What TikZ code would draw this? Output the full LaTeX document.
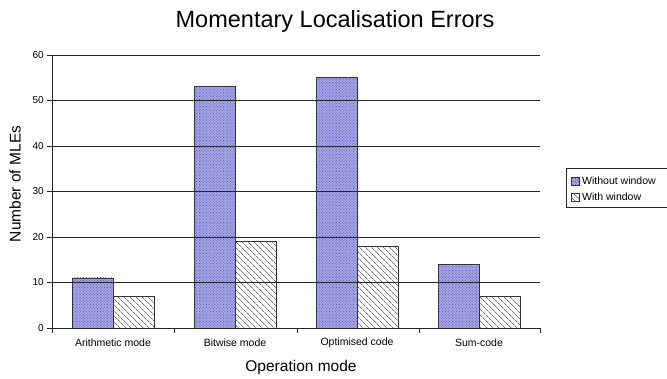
\documentclass[tikz,border=0pt]{standalone}
\usepackage{fontspec}
\setmainfont{Liberation Sans}
\usetikzlibrary{patterns,patterns.meta}
\definecolor{barblue}{RGB}{165,165,228}
\definecolor{dotblue}{RGB}{80,80,185}
\tikzset{
  px/.style={x=1pt,y=-1pt},
  bara/.style={draw=black!80,line width=0.8pt,fill=barblue,postaction={pattern={Dots[radius=0.5pt,distance=2pt,angle=45]},pattern color=dotblue}},
  barb/.style={draw=black!80,line width=0.8pt,fill=white,postaction={pattern={Lines[angle=-45,distance=4pt,line width=0.5pt]},pattern color=black!80}},
  grid line/.style={line width=0.7pt,black!85},
  ylab/.style={anchor=east,font=\fontsize{10}{11}\selectfont,inner sep=0pt},
  xlab/.style={anchor=center,font=\fontsize{10.5}{12}\selectfont,inner sep=0pt},
  leg/.style={anchor=west,font=\fontsize{10.5}{12}\selectfont,inner sep=0pt}
}
\begin{document}
\begin{tikzpicture}[px]
\useasboundingbox (0,0) rectangle (667,378);
\clip (0,0) rectangle (667,378);
\fill[white] (0,0) rectangle (667,378);
% y mapping: value v -> 328 - 4.55 v
% bars Without window
\draw[bara] (72,328) rectangle (113,{328-4.55*11});
\draw[bara] (194,328) rectangle (235,{328-4.55*53});
\draw[bara] (316,328) rectangle (357,{328-4.55*55});
\draw[bara] (438,328) rectangle (479,{328-4.55*14});
% bars With window
\draw[barb] (113,328) rectangle (154,{328-4.55*7});
\draw[barb] (235,328) rectangle (276,{328-4.55*19});
\draw[barb] (357,328) rectangle (398,{328-4.55*18});
\draw[barb] (479,328) rectangle (520,{328-4.55*7});
% grid lines and y ticks
\foreach \v in {0,10,...,60}{
  \draw[grid line] (47,{328-4.55*\v}) -- (540,{328-4.55*\v});
  \node[ylab] (y\v) at (44,{328-4.55*\v}) {\v};
}
% axes
\draw[grid line] (52,55) -- (52,333);
\foreach \xx in {174,297,419,540}{\draw[grid line] (\xx,328) -- (\xx,333);}
% category labels
\node[xlab] (c1) at (113,343) {Arithmetic mode};
\node[xlab] (c2) at (235,343) {Bitwise mode};
\node[xlab] (c3) at (357,343) {Optimised code};
\node[xlab] (c4) at (479,343) {Sum-code};
% titles
\node[font=\fontsize{23.5}{26}\selectfont] (title) at (335,21) {Momentary Localisation Errors};
\node[font=\fontsize{15.5}{18}\selectfont,rotate=90] (ytitle) at (15,184) {Number of MLEs};
\node[font=\fontsize{15.5}{18}\selectfont] (xtitle) at (301,367) {Operation mode};
% legend
\draw[line width=0.7pt,black!85] (566,168) rectangle (680,207);
\draw[bara,line width=0.6pt] (571,177) rectangle (579,185);
\draw[barb,line width=0.6pt] (571,193) rectangle (579,201);
\node[leg] (l1) at (582,181) {Without window};
\node[leg] (l2) at (582,197) {With window};
\end{tikzpicture}
\end{document}
